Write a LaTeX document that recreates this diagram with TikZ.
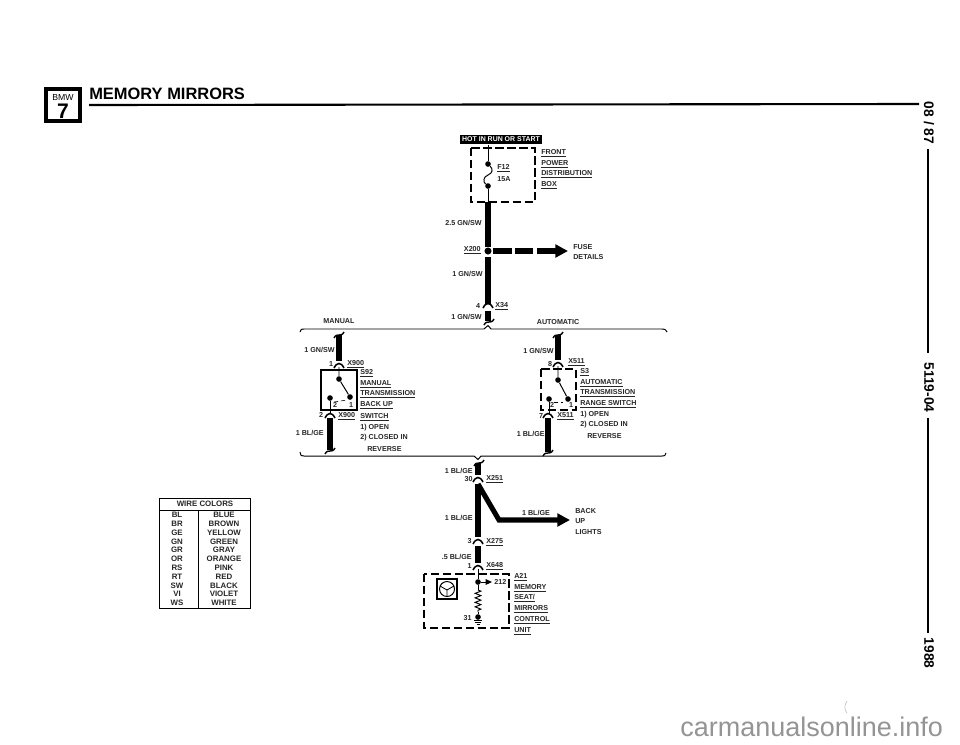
\documentclass[tikz,border=0pt]{standalone}
\usepackage{fontspec}
\setmainfont{Liberation Sans}
\usetikzlibrary{arrows.meta}
\usetikzlibrary{decorations.pathmorphing}
\tikzset{
    lbl/.style={inner sep=0pt, font=\fontsize{5.1}{6}\selectfont\bfseries, text=black!85},
    lft/.style={lbl, anchor=west},
    rgt/.style={lbl, anchor=east},
    wire/.style={line width=3.6pt, black},
    thin wire/.style={line width=0.7pt, black},
    dashbox/.style={line width=1.1pt, dash pattern=on 6pt off 2.5pt},
    solidbox/.style={line width=0.8pt},
    pin/.style={circle, fill=black, inner sep=0pt, minimum size=4pt},
    bracket/.style={line width=0.7pt},
    tbl/.style={line width=0.6pt},
    sidetext/.style={inner sep=0pt, rotate=-90, font=\fontsize{9.8}{11}\selectfont\bfseries},
}
\newcommand{\wlabel}[4]{ % Takes style, node name, position, text as arguments
    \node[#1] (#2) at (#3) {#4};
}
\newcommand{\ulbl}[1]{\vtop{\hbox{#1}\kern0.5pt\hrule height 0.45pt}}
\newcommand{\wirecap}[2]{ % Wavy end of a cut wire, takes x coord, y coord
    \draw[line width=1pt] (#1-5,#2+3) .. controls (#1-2,#2-3) and (#1+2,#2+3) .. (#1+5,#2-3);
}
\newcommand{\pinarch}[2]{ % Arch of a connector pin, takes x coord, y coord
    \draw[line width=1.1pt] (#1-5,#2+3) .. controls (#1-2,#2-3) and (#1+2,#2-3) .. (#1+5,#2+3);
}
\begin{document}
\begin{tikzpicture}[x=0.025cm, y=-0.025cm]
    \useasboundingbox (0,0) rectangle (960,744);

    % Header
    \draw[line width=2.4pt] (46,89) rectangle (80,121);
    \node[inner sep=0pt, font=\fontsize{6.2}{7}\selectfont] (bmw) at (63,97) {BMW};
    \node[inner sep=0pt, font=\fontsize{15}{15}\selectfont\bfseries] (seven) at (63,111) {7};
    \node[anchor=west, inner sep=0pt, font=\fontsize{11.7}{14}\selectfont\bfseries] (title) at (89,94) {MEMORY MIRRORS};
    \coordinate (ruleL) at (89,105);
    \coordinate (ruleR) at (919,104);
    \draw[line width=1.5pt] (ruleL) -- (ruleR);

    % Right margin
    \node[sidetext] (date) at (929,123) {08 / 87};
    \node[sidetext] (code) at (929,387.5) {5119-04};
    \node[sidetext] (year) at (929,653) {1988};
    \coordinate (barA) at (928,149);
    \coordinate (barB) at (928,353);
    \coordinate (barC) at (928,418);
    \coordinate (barD) at (928,633);
    \draw[line width=1.3pt] (barA) -- (barB);
    \draw[line width=1.3pt] (barC) -- (barD);

    % Fuse box
    \node[fill=black, text=white, inner sep=1.6pt, font=\fontsize{4.95}{6}\selectfont\bfseries] (hot) at (501,139.5) {HOT IN RUN OR START};
    \draw[dashbox] (471,148) rectangle (535,202);
    \node[pin] (fusetop) at (488,164) {};
    \node[pin] (fusebot) at (488,186) {};
    \coordinate (hotwire) at (488,145);
    \coordinate (boxout) at (488,202);
    \draw[thin wire] (hotwire) -- (fusetop);
    \draw[thin wire] (fusebot) -- (boxout);
    \draw[thin wire] (fusetop) .. controls (493,169) and (493,173) .. (488,175) .. controls (483,177) and (483,182) .. (fusebot);
    \wlabel{lft}{fname}{497,168}{\ulbl{F12}}
    \wlabel{lft}{famps}{497,179}{15A}
    \wlabel{lft}{box1}{541,153}{\ulbl{FRONT}}
    \wlabel{lft}{box2}{541,164}{\ulbl{POWER}}
    \wlabel{lft}{box3}{541,174}{\ulbl{DISTRIBUTION}}
    \wlabel{lft}{box4}{541,185}{\ulbl{BOX}}

    % Feed down to the split
    \node[pin, minimum size=5pt] (xtwo) at (488,251) {};
    \coordinate (feedA) at (488,247);
    \coordinate (feedB) at (488,257);
    \coordinate (feedC) at (488,304);
    \draw[wire] (boxout) -- (feedA);
    \draw[wire] (feedB) -- (feedC);
    \wlabel{rgt}{lfeedA}{482,223}{2.5 GN/SW}
    \wlabel{rgt}{lfeedB}{483,274}{1 GN/SW}
    \wlabel{rgt}{lxtwo}{481,250}{\ulbl{X200}}

    % Fuse details
    \coordinate (fdA) at (493,251);
    \coordinate (fdB) at (512,251);
    \coordinate (fdC) at (515,251);
    \coordinate (fdD) at (533,251);
    \coordinate (fdE) at (537,251);
    \coordinate (fdF) at (568,251);
    \draw[wire] (fdA) -- (fdB);
    \draw[wire] (fdC) -- (fdD);
    \draw[wire, -{Triangle[length=9pt, width=9pt]}] (fdE) -- (fdF);
    \wlabel{lft}{fuse}{573,247}{FUSE}
    \wlabel{lft}{details}{573,257}{DETAILS}

    % Connector X34
    \pinarch{488}{305}
    \coordinate (xfourA) at (488,311);
    \coordinate (xfourB) at (488,321);
    \draw[wire] (xfourA) -- (xfourB);
    \wirecap{489}{322}
    \wlabel{lbl}{lfour}{478,306}{4}
    \wlabel{lft}{lxfour}{495,306}{\ulbl{X34}}
    \wlabel{rgt}{lgnsw}{482,317}{1 GN/SW}

    % Splice brackets
    \draw[bracket] (300,332) .. controls (301,329) .. (304,329) -- (484,329) -- (488,325.5) -- (491,329) -- (662,329) .. controls (665,329) .. (667,332);
    \draw[bracket] (300,452) .. controls (301,456) .. (304,456) -- (474,456) -- (478,459.5) -- (481,456) -- (662,456) .. controls (665,456) .. (666,453);
    \wlabel{lbl}{lmanual}{339,321}{MANUAL}
    \wlabel{lbl}{lauto}{558,322}{AUTOMATIC}

    % Manual transmission switch
    \wirecap{339}{335}
    \coordinate (mtopA) at (339,335);
    \coordinate (mtopB) at (339,361);
    \draw[wire] (mtopA) -- (mtopB);
    \pinarch{339}{365}
    \draw[solidbox] (321,370) rectangle (357,410);
    \node[pin] (mcom) at (339,379) {};
    \node[pin] (mone) at (350,397) {};
    \node[pin] (mtwo) at (330,398) {};
    \coordinate (mpin) at (339,367);
    \coordinate (mlow) at (330,414);
    \draw[thin wire] (mpin) -- (mcom) -- (mone);
    \draw[thin wire] (mtwo) -- (mlow);
    \draw[line width=0.4pt, dash pattern=on 3pt off 2pt] (334,402) -- (347,400);
    \pinarch{330}{415}
    \coordinate (mbotA) at (330,418);
    \coordinate (mbotB) at (330,450);
    \draw[wire] (mbotA) -- (mbotB);
    \wirecap{330}{451}
    \wlabel{lbl}{mlone}{351,405}{1}
    \wlabel{lbl}{mltwo}{335,405}{2}
    \wlabel{lbl}{mpone}{331,364}{1}
    \wlabel{lbl}{mptwo}{321,415}{2}
    \wlabel{lft}{mxa}{347,364}{\ulbl{X900}}
    \wlabel{lft}{mxb}{338,416}{\ulbl{X900}}
    \wlabel{rgt}{mgn}{335,350}{1 GN/SW}
    \wlabel{rgt}{mbl}{324,433}{1 BL/GE}
    \wlabel{lft}{mt1}{360,373}{\ulbl{S92}}
    \wlabel{lft}{mt2}{360,384}{\ulbl{MANUAL}}
    \wlabel{lft}{mt3}{360,394}{\ulbl{TRANSMISSION}}
    \wlabel{lft}{mt4}{360,405}{\ulbl{BACK UP}}
    \wlabel{lft}{mt5}{360,417}{\ulbl{SWITCH}}
    \wlabel{lft}{mt6}{360,428}{1) OPEN}
    \wlabel{lft}{mt7}{360,438}{2) CLOSED IN}
    \wlabel{lft}{mt8}{367,449}{REVERSE}

    % Automatic transmission switch
    \wirecap{558}{335}
    \coordinate (atopA) at (558,335);
    \coordinate (atopB) at (558,360);
    \draw[wire] (atopA) -- (atopB);
    \pinarch{558}{364}
    \draw[dashbox] (541,369) rectangle (576,410);
    \node[pin] (acom) at (558,380) {};
    \node[pin] (aone) at (568,399) {};
    \node[pin] (atwo) at (549,399) {};
    \coordinate (apin) at (558,366);
    \coordinate (alow) at (549,414);
    \draw[thin wire] (apin) -- (acom) -- (aone);
    \draw[thin wire] (atwo) -- (alow);
    \draw[line width=0.4pt, dash pattern=on 3pt off 2pt] (554,402) -- (563,402);
    \pinarch{548}{415}
    \coordinate (abotA) at (548,418);
    \coordinate (abotB) at (548,452);
    \draw[wire] (abotA) -- (abotB);
    \wirecap{548}{453}
    \wlabel{lbl}{alone}{571,405}{1}
    \wlabel{lbl}{altwo}{552,405}{2}
    \wlabel{lbl}{apone}{550,364}{8}
    \wlabel{lbl}{aptwo}{541,416}{7}
    \wlabel{lft}{axa}{568,362}{\ulbl{X511}}
    \wlabel{lft}{axb}{557,416}{\ulbl{X511}}
    \wlabel{rgt}{agn}{554,351}{1 GN/SW}
    \wlabel{rgt}{abl}{545,434}{1 BL/GE}
    \wlabel{lft}{at1}{580,372}{\ulbl{S3}}
    \wlabel{lft}{at2}{580,383}{\ulbl{AUTOMATIC}}
    \wlabel{lft}{at3}{580,393}{\ulbl{TRANSMISSION}}
    \wlabel{lft}{at4}{580,404}{\ulbl{RANGE SWITCH}}
    \wlabel{lft}{at5}{580,415}{1) OPEN}
    \wlabel{lft}{at6}{580,425}{2) CLOSED IN}
    \wlabel{lft}{at7}{587,436}{REVERSE}

    % Back up lights branch
    \wirecap{479}{463}
    \coordinate (stubA) at (478,463);
    \coordinate (stubB) at (478,475);
    \draw[wire] (stubA) -- (stubB);
    \pinarch{478}{479}
    \coordinate (trunkA) at (478,484);
    \coordinate (trunkB) at (478,537);
    \coordinate (elbow) at (499,520);
    \coordinate (lights) at (570,520);
    \draw[wire] (trunkA) -- (trunkB);
    \draw[wire, line join=miter, -{Triangle[length=9pt, width=9pt]}] (trunkA) -- (elbow) -- (lights);
    \pinarch{478}{541}
    \coordinate (lowA) at (478,546);
    \coordinate (lowB) at (478,563);
    \draw[wire] (lowA) -- (lowB);
    \pinarch{478}{567}
    \wlabel{rgt}{lb1}{473,471}{1 BL/GE}
    \wlabel{rgt}{lb2}{473,479}{30}
    \wlabel{lft}{lb3}{486,479}{\ulbl{X251}}
    \wlabel{rgt}{lb4}{473,518}{1 BL/GE}
    \wlabel{lbl}{lb5}{536,513}{1 BL/GE}
    \wlabel{lft}{lb6}{575,511}{BACK}
    \wlabel{lft}{lb7}{575,521}{UP}
    \wlabel{lft}{lb8}{575,532}{LIGHTS}
    \wlabel{rgt}{lb9}{472,541}{3}
    \wlabel{lft}{lb10}{486,542}{\ulbl{X275}}
    \wlabel{rgt}{lb11}{472,557}{.5 BL/GE}
    \wlabel{rgt}{lb12}{472,566}{1}
    \wlabel{lft}{lb13}{486,566}{\ulbl{X648}}

    % Control unit
    \draw[dashbox] (424,574) rectangle (509,628);
    \node[pin] (ctop) at (478,582) {};
    \node[pin] (cbot) at (478,617) {};
    \coordinate (cpin) at (478,569);
    \coordinate (cout) at (492,582);
    \coordinate (rtop) at (478,590);
    \coordinate (rbot) at (478,612);
    \draw[thin wire] (cpin) -- (ctop) -- (rtop);
    \draw[thin wire] (rbot) -- (cbot);
    \draw[thin wire, -{Triangle[length=4.5pt, width=4pt]}] (ctop) -- (cout);
    \draw[thin wire, decorate, decoration={zigzag, amplitude=2pt, segment length=3.2pt}] (rtop) -- (rbot);
    \draw[line width=0.5pt] (474,620) -- (482,620) (475,622) -- (481,622) (476.5,624) -- (479.5,624);
    \wlabel{lft}{c212}{494,582}{212}
    \wlabel{rgt}{c31}{472,618}{31}
    \wlabel{lft}{c1}{514,577}{\ulbl{A21}}
    \wlabel{lft}{c2}{514,588}{\ulbl{MEMORY}}
    \wlabel{lft}{c3}{514,598}{\ulbl{SEAT/}}
    \wlabel{lft}{c4}{514,609}{\ulbl{MIRRORS}}
    \wlabel{lft}{c5}{514,620}{\ulbl{CONTROL}}
    \wlabel{lft}{c6}{514,631}{\ulbl{UNIT}}

    % Steering wheel symbol
    \draw[line width=1pt] (437,579) rectangle (457,599);
    \draw[line width=0.7pt] (447,589) circle (7.5);
    \draw[line width=0.6pt] (440,586) -- (447,590) -- (454,586) (447,590) -- (447,596);

    % Wire colour table
    \draw[tbl] (159,498) rectangle (250,608);
    \draw[tbl] (159,510) -- (250,510);
    \draw[tbl] (198,510) -- (198,608);
    \node[lbl, font=\fontsize{5.6}{6}\selectfont\bfseries] (wirecolors) at (205,504) {WIRE COLORS};
    \foreach \abbr/\colr [count=\i] in {BL/BLUE, BR/BROWN, GE/YELLOW, GN/GREEN, GR/GRAY, OR/ORANGE, RS/PINK, RT/RED, SW/BLACK, VI/VIOLET, WS/WHITE} {
        \node[lbl, font=\fontsize{5.6}{6}\selectfont\bfseries] (abbr\i) at (177,515+8.8*\i-8.8) {\abbr};
        \node[lbl, font=\fontsize{5.6}{6}\selectfont\bfseries] (colr\i) at (224,515+8.8*\i-8.8) {\colr};
    }

    % Footer
    \node[anchor=west, inner sep=0pt, text=black!42, font=\fontsize{19.2}{20}\selectfont] (site) at (680,727) {carmanualsonline.info};
    \draw[black!35, line width=0.3pt] (847,701) .. controls (844,706) and (844,709) .. (847,713);
\end{tikzpicture}
\end{document}
